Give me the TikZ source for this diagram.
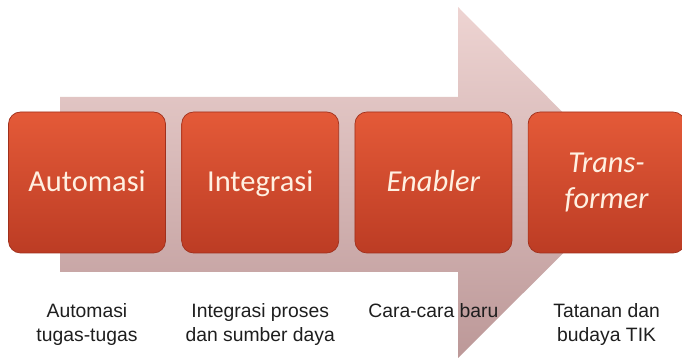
\documentclass[tikz,border=0pt]{standalone}
\usepackage{fontspec}
\setmainfont{Liberation Sans}
\newfontfamily\boxfont{Carlito}
\usetikzlibrary{positioning}
\definecolor{arrowtop}{RGB}{238,212,210}
\definecolor{arrowbot}{RGB}{188,152,152}
\definecolor{boxtop}{RGB}{228,90,56}
\definecolor{boxbot}{RGB}{188,60,36}
\definecolor{boxline}{RGB}{160,48,28}
\definecolor{boxtext}{RGB}{255,240,225}
\definecolor{captext}{RGB}{30,30,30}

\begin{document}
\begin{tikzpicture}[
    stage/.style={draw=boxline, line width=0.6pt, rounded corners=0.36cm,
      top color=boxtop, bottom color=boxbot, minimum width=4.71cm, minimum height=4.23cm,
      text=boxtext, align=center, font=\boxfont\fontsize{26}{31}\selectfont},
    caption/.style={inner sep=0pt, align=center, text=captext, font=\fontsize{16.5}{20.5}\selectfont}
  ]
    \useasboundingbox (0, 0) rectangle (20.46, 10.77);
    % big arrow behind the boxes
    \shade[top color=arrowtop, bottom color=arrowbot] (1.8, 2.61) -- (1.8, 7.86) -- (13.74, 7.86)
      -- (13.74, 10.56) -- (19.0, 5.27) -- (13.74, 0.03) -- (13.74, 2.61) -- cycle;

    \node[stage, text depth=0.25em] (auto) at (2.61, 5.295) {Automasi};
    \node[stage, text depth=0.25em, right=0.465cm of auto] (integ) {Integrasi};
    \node[stage, text depth=0.25em, right=0.465cm of integ] (enab) {\itshape Enabler};
    \node[stage, right=0.465cm of enab] (trans) {\itshape Trans-\\\itshape former};

    \node[caption, below=1.5cm of auto] (autotxt) {Automasi\\tugas-tugas};
    \node[caption, below=1.5cm of integ] (integtxt) {Integrasi proses\\dan sumber daya};
    \node[caption, below=1.5cm of enab] (enabtxt) {Cara-cara baru};
    \node[caption, below=1.5cm of trans] (transtxt) {Tatanan dan\\budaya TIK};
\end{tikzpicture}
\end{document}
